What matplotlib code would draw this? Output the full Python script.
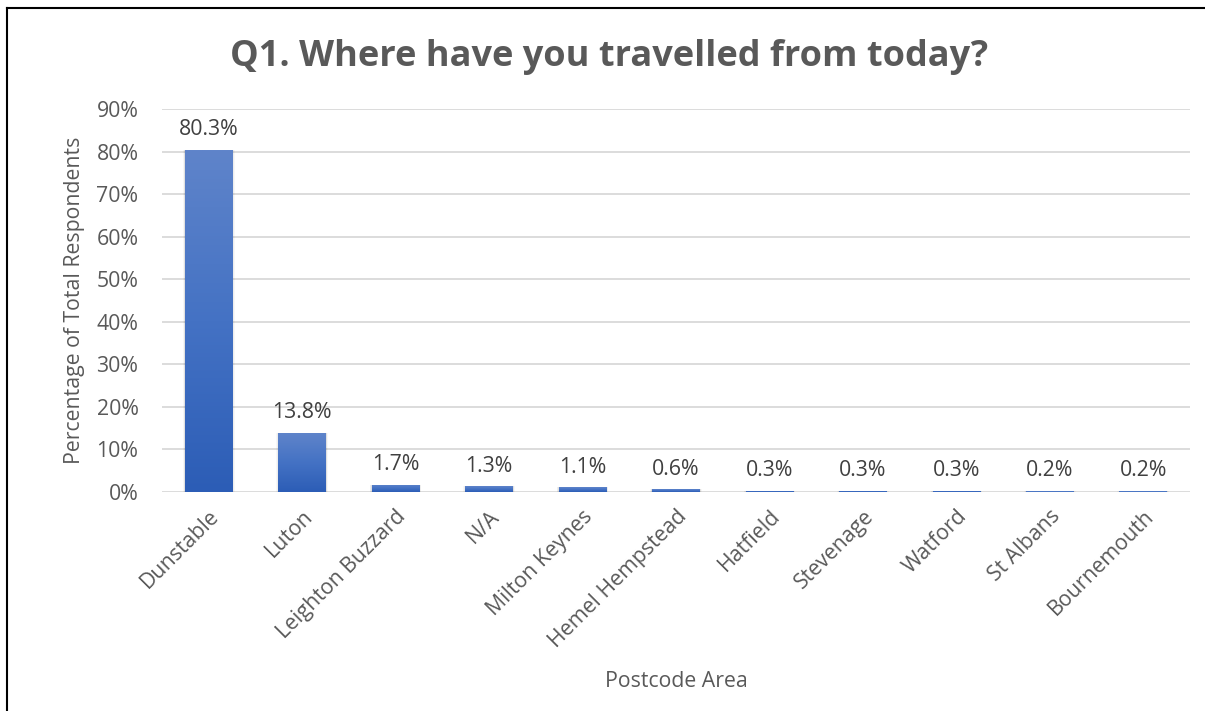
import numpy as np
import matplotlib
matplotlib.use("Agg")
import matplotlib.pyplot as plt
from matplotlib.lines import Line2D
from matplotlib.colors import LinearSegmentedColormap
from matplotlib.patches import Rectangle

plt.rcParams['font.family'] = ['Open Sans', 'DejaVu Sans']

areas = ["Dunstable", "Luton", "Leighton Buzzard", "N/A", "Milton Keynes",
         "Hemel Hempstead", "Hatfield", "Stevenage", "Watford", "St Albans",
         "Bournemouth"]
shares = [80.3, 13.8, 1.7, 1.3, 1.1, 0.6, 0.3, 0.3, 0.3, 0.2, 0.2]
y_ticks = [0, 10, 20, 30, 40, 50, 60, 70, 80, 90]

TEXT = "#595959"
GRID = "#D9D9D9"
FS = 15.3

fig = plt.figure(figsize=(12.05, 7.11), dpi=100)
ax = fig.add_axes([162 / 1205, 1 - 492 / 711, (1190 - 162) / 1205, (492 - 109) / 711])

x = np.arange(len(areas))
width = 0.51
bars = ax.bar(x, shares, width=width, color="none", edgecolor="none", zorder=3)

# vertical gradient fill for each bar, with a soft shadow behind it
cmap = LinearSegmentedColormap.from_list("bar", ["#2C5DB6", "#4472C4", "#5F84CA"])
grad = np.linspace(0, 1, 256).reshape(-1, 1)
for b in bars:
    x0, w, h = b.get_x(), b.get_width(), b.get_height()
    for k, a in enumerate([0.05, 0.04, 0.03]):
        off = 0.012 * (k + 1)
        ax.add_patch(Rectangle((x0 - off * 0.6, -0.25 - off * 6), w + off * 1.2,
                               h + 0.25 + off * 6, facecolor="black", alpha=a,
                               edgecolor="none", zorder=2))
    im = ax.imshow(grad, extent=[x0, x0 + w, 0, h], origin="lower", cmap=cmap,
                   aspect="auto", zorder=3)
    im.set_clip_path(b)

for xi, v in zip(x, shares):
    ax.text(xi, v + 2.3, f"{v:.1f}%", ha="center", va="bottom",
            fontsize=FS, color="#404040", zorder=4)

ax.set_xlim(-0.5, len(areas) - 0.5)
ax.set_ylim(0, 90)
ax.set_yticks(y_ticks)
ax.set_yticklabels([f"{t}%" for t in y_ticks])
ax.set_xticks(x)
ax.set_xticklabels(areas, rotation=45, ha="right", rotation_mode="anchor")
ax.tick_params(axis="both", length=0, colors=TEXT, labelsize=FS)
ax.tick_params(axis="y", pad=17)
ax.tick_params(axis="x", pad=10)
ax.grid(axis="y", color=GRID, linewidth=1.3, zorder=0)
ax.set_axisbelow(True)
for s in ax.spines.values():
    s.set_visible(False)

ax.set_ylabel("Percentage of Total Respondents", fontsize=FS, color=TEXT, labelpad=8)
ax.set_xlabel("Postcode Area", fontsize=FS, color=TEXT, labelpad=14)

fig.text(609 / 1205, 1 - 57 / 711, "Q1. Where have you travelled from today?",
         ha="center", va="center", fontsize=26, fontweight="bold", color=TEXT)

# frame lines along the left and top edges
fig.add_artist(Line2D([7.5 / 1205, 7.5 / 1205], [0, 1 - 8 / 711], color="black",
                      linewidth=1.5, transform=fig.transFigure))
fig.add_artist(Line2D([7.5 / 1205, 1], [1 - 8 / 711, 1 - 8 / 711], color="black",
                      linewidth=1.5, transform=fig.transFigure))

fig.savefig("out.png", dpi=100, facecolor="white")
